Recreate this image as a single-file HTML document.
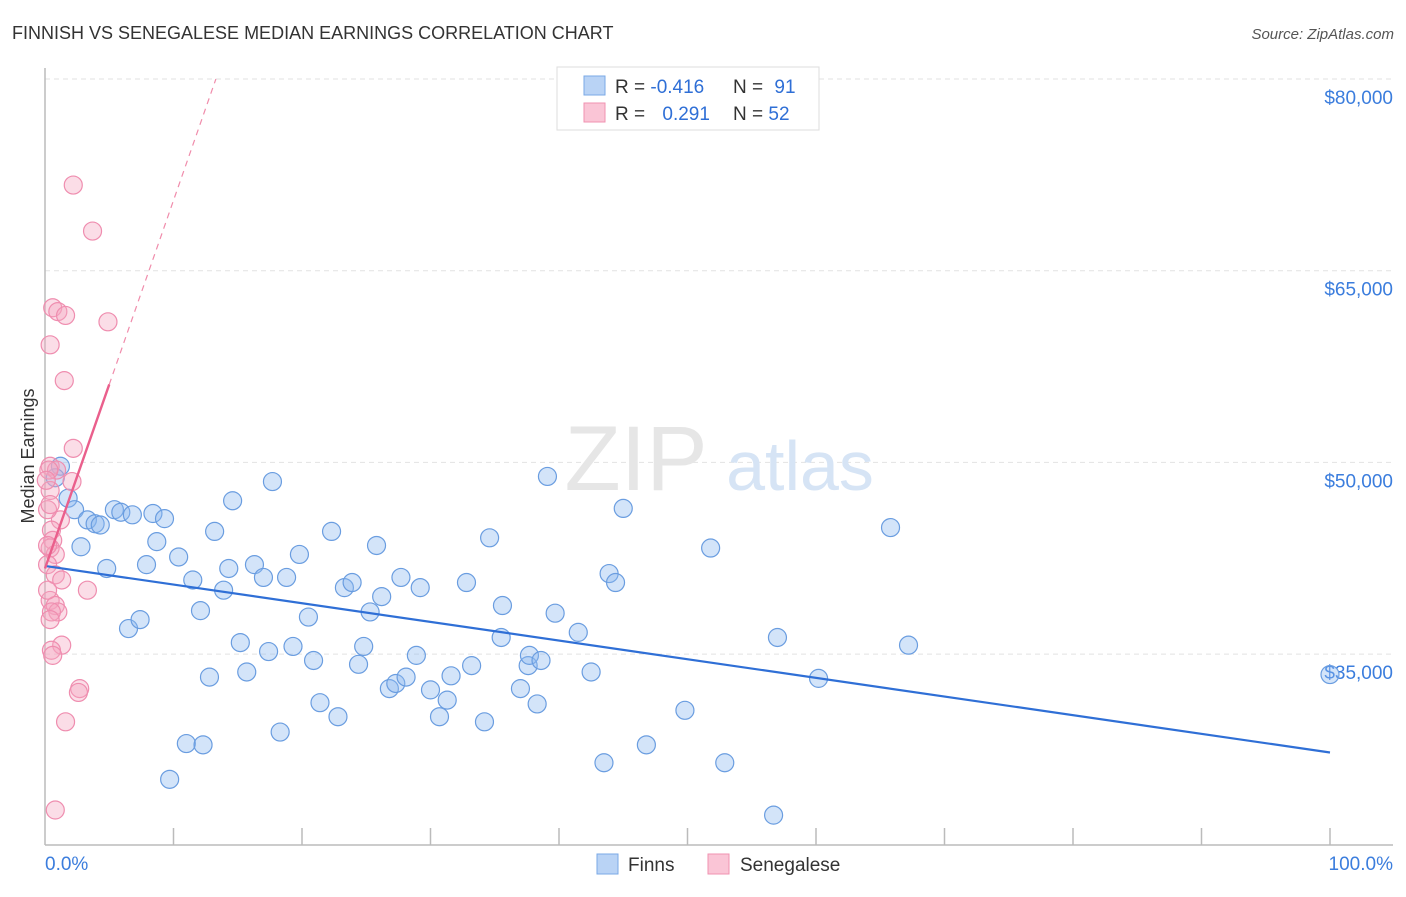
<!DOCTYPE html>
<html><head><meta charset="utf-8"><style>
body{margin:0;background:#fff;font-family:"Liberation Sans",sans-serif;}
svg text{font-family:"Liberation Sans",sans-serif;}
</style></head><body>
<svg id="chart" width="1406" height="892" viewBox="0 0 1406 892" xmlns="http://www.w3.org/2000/svg">
<text x="12" y="39" font-size="18" fill="#333">FINNISH VS SENEGALESE MEDIAN EARNINGS CORRELATION CHART</text>
<text x="1394" y="39" font-size="15" fill="#555" font-style="italic" text-anchor="end">Source: ZipAtlas.com</text>
<text x="0" y="0" transform="translate(34,456) rotate(-90)" font-size="18" fill="#333" text-anchor="middle">Median Earnings</text>
<g id="grid"></g>
<text x="636" y="490" font-size="92" fill="#e6e6e6" font-family="Liberation Serif" text-anchor="middle">ZIP</text>
<text x="800" y="490" font-size="70" fill="#d6e4f5" text-anchor="middle">atlas</text>
<g id="axes"></g>
<g id="pts"></g>
<g id="trends"></g>
<g>
<rect x="557" y="67" width="262" height="63" fill="#fff" stroke="#ddd"/>
<rect x="584" y="76" width="21" height="19" fill="#b9d3f5" stroke="#7aa8e6"/>
<rect x="584" y="103" width="21" height="19" fill="#fac5d6" stroke="#f092b0"/>
<text x="615" y="93" font-size="19" fill="#333">R = <tspan fill="#2f6fd6">-0.416</tspan></text>
<text x="733" y="93" font-size="19" fill="#333">N = <tspan fill="#2f6fd6" dx="6">91</tspan></text>
<text x="615" y="120" font-size="19" fill="#333">R = <tspan fill="#2f6fd6" dx="12">0.291</tspan></text>
<text x="733" y="120" font-size="19" fill="#333">N = <tspan fill="#2f6fd6">52</tspan></text>
</g>
<g>
<rect x="597" y="854" width="21" height="20" fill="#b9d3f5" stroke="#7aa8e6"/>
<text x="628" y="871" font-size="19" fill="#333">Finns</text>
<rect x="708" y="854" width="21" height="20" fill="#fac5d6" stroke="#f092b0"/>
<text x="740" y="871" font-size="19" fill="#333">Senegalese</text>
</g>
</svg>
<script>
const yTicks=[35000,50000,65000,80000];
const yTickLabels=["$35,000","$50,000","$65,000","$80,000"];
const xTickLabels=["0.0%","100.0%"];
const finnsX=[1.2,0.8,1.8,2.3,3.3,3.9,4.3,2.8,4.8,5.4,5.9,6.8,8.4,9.3,7.9,8.7,6.5,7.4,10.4,11.5,12.1,12.8,11.0,12.3,9.7,13.2,14.6,14.3,13.9,15.2,15.7,16.3,17.0,17.7,17.4,18.8,19.3,19.8,20.9,20.5,21.4,18.3,22.3,22.8,23.3,23.9,24.4,24.8,25.3,25.8,26.2,26.8,27.3,28.1,27.7,28.9,29.2,30.0,30.7,31.3,31.6,32.8,33.2,34.2,34.6,35.6,35.5,37.6,37.7,38.6,37.0,38.3,39.1,39.7,41.5,42.5,43.5,43.9,44.4,45.0,46.8,49.8,51.8,52.9,57.0,56.7,60.2,65.8,67.2,100.0];
const finnsY=[49.7,48.8,47.2,46.3,45.5,45.2,45.1,43.4,41.7,46.3,46.1,45.9,46.0,45.6,42.0,43.8,37.0,37.7,42.6,40.8,38.4,33.2,28.0,27.9,25.2,44.6,47.0,41.7,40.0,35.9,33.6,42.0,41.0,48.5,35.2,41.0,35.6,42.8,34.5,37.9,31.2,28.9,44.6,30.1,40.2,40.6,34.2,35.6,38.3,43.5,39.5,32.3,32.7,33.2,41.0,34.9,40.2,32.2,30.1,31.4,33.3,40.6,34.1,29.7,44.1,38.8,36.3,34.1,34.9,34.5,32.3,31.1,48.9,38.2,36.7,33.6,26.5,41.3,40.6,46.4,27.9,30.6,43.3,26.5,36.3,22.4,33.1,44.9,35.7,33.4];
const senX=[2.2,3.7,0.6,1.0,1.6,4.9,0.4,1.5,2.2,0.4,0.9,2.1,0.4,1.2,0.5,0.6,0.4,0.8,0.2,0.8,1.3,3.3,0.4,0.8,1.0,0.5,0.4,1.3,0.5,0.6,2.7,2.6,1.6,0.8,0.2,0.2,0.2,0.3,0.1,0.4];
const senY=[71.7,68.1,62.1,61.8,61.5,61.0,59.2,56.4,51.1,49.7,49.4,48.5,47.8,45.5,44.7,43.9,43.3,42.8,42.0,41.2,40.8,40.0,39.2,38.8,38.3,38.3,37.7,35.7,35.3,34.9,32.3,32.0,29.7,22.8,46.3,43.5,40.0,49.4,48.6,46.7];
const finnsTrend=[41.9,27.3];   // value (k$) at 0% and 100%
const senTrend=[41.7,2.88];     // intercept (k$), slope (k$ per %)
const senSolidEnd=5.0;

const NS="http://www.w3.org/2000/svg";
const X0=45,X1=1330,YTOP=79,Y80=79,PX_PER_K=191.7/15;
const xs=p=>X0+(X1-X0)*p/100;
const ys=v=>Y80+(80-v)*PX_PER_K;
function mk(tag,attrs,parent){const e=document.createElementNS(NS,tag);for(const k in attrs)e.setAttribute(k,attrs[k]);parent.appendChild(e);return e;}
const grid=document.getElementById('grid'),axes=document.getElementById('axes'),pts=document.getElementById('pts'),tr=document.getElementById('trends');
yTicks.forEach((t,i)=>{
  const y=ys(t/1000);
  const l=mk('line',{x1:X0,x2:1393,y1:y,y2:y,stroke:'#e2e2e2','stroke-dasharray':'5,4'},grid);
  
  
  const tx=mk('text',{x:1393,y:y+25,'font-size':19,fill:'#3b7ddd','text-anchor':'end'},axes);
  tx.textContent=yTickLabels[i];
  
  
});
const ax=mk('line',{x1:X0,x2:X0,y1:68,y2:845,stroke:'#bbb','stroke-width':1.5},axes);


const bx=mk('line',{x1:X0,x2:1393,y1:845,y2:845,stroke:'#bbb','stroke-width':1.5},axes);


for(let i=1;i<=10;i++){
  const x=xs(i*10);
  const t=mk('line',{x1:x,x2:x,y1:828,y2:845,stroke:'#bbb','stroke-width':1.5},axes);
  
  
}
[[0,'start',45],[100,'end',1393]].forEach((d,i)=>{
  const t=mk('text',{x:d[2],y:870,'font-size':19,fill:'#3b7ddd','text-anchor':d[1]},axes);
  t.textContent=xTickLabels[i];
  
  
});
finnsX.forEach((x,i)=>{
  const c=mk('circle',{cx:xs(x),cy:ys(finnsY[i]),r:9,fill:'rgba(140,185,240,0.38)',stroke:'#6a9de0','stroke-width':1.2},pts);
  
  
});
senX.forEach((x,i)=>{
  const c=mk('circle',{cx:xs(x),cy:ys(senY[i]),r:9,fill:'rgba(245,165,192,0.38)',stroke:'#ef8daf','stroke-width':1.2},pts);
  
  
});
const fl=mk('line',{x1:xs(0),y1:ys(finnsTrend[0]),x2:xs(100),y2:ys(finnsTrend[1]),stroke:'#2f6fd6','stroke-width':2.2},tr);


const sv=p=>senTrend[0]+senTrend[1]*p;
const pEnd=(80-senTrend[0])/senTrend[1];
const sd=mk('line',{x1:xs(senSolidEnd),y1:ys(sv(senSolidEnd)),x2:xs(pEnd),y2:ys(sv(pEnd)),stroke:'#f08cab','stroke-width':1.2,'stroke-dasharray':'6,5'},tr);


const sl=mk('line',{x1:xs(0),y1:ys(sv(0)),x2:xs(senSolidEnd),y2:ys(sv(senSolidEnd)),stroke:'#ea5f8c','stroke-width':2.4},tr);


</script>
</body></html>
